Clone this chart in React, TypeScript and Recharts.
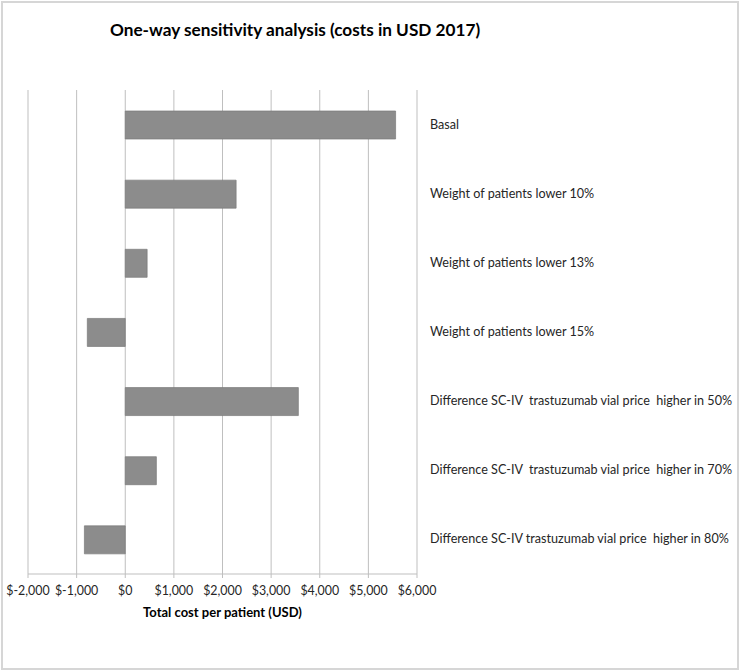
import React from "react";
import { BarChart, Bar, XAxis, YAxis, CartesianGrid, Label } from "recharts";

const categories = [
  "Basal",
  "Weight of patients lower 10%",
  "Weight of patients lower 13%",
  "Weight of patients lower 15%",
  "Difference SC-IV  trastuzumab vial price  higher in 50%",
  "Difference SC-IV  trastuzumab vial price  higher in 70%",
  "Difference SC-IV trastuzumab vial price  higher in 80%",
];
const totalCost = [5560, 2280, 450, -780, 3560, 640, -840];
const xTicks = [-2000, -1000, 0, 1000, 2000, 3000, 4000, 5000, 6000];

const data = categories.map((name, i) => ({ name, cost: totalCost[i] }));

const FONT = "Lato, 'Open Sans', sans-serif";

const fmt = (v: number) => "$" + v.toLocaleString("en-US");

const RightTick = (props: any) => {
  const { x, y, payload } = props;
  return (
    <text
      x={x}
      y={y}
      dy={4}
      textAnchor="start"
      fill="#262626"
      fontSize={12.6}
      fontFamily={FONT}
      style={{ whiteSpace: "pre" }}
    >
      {payload.value}
    </text>
  );
};

export default function App() {
  return (
    <div
      style={{
        position: "absolute",
        left: 0,
        top: 0,
        width: 740,
        height: 671,
        background: "#fff",
      }}
    >
      <div
        style={{
          position: "absolute",
          left: 1,
          top: 1,
          width: 738,
          height: 669,
          border: "2px solid #d6d6d6",
          boxSizing: "border-box",
        }}
      />
      <div
        style={{
          position: "absolute",
          left: 110,
          top: 19,
          fontFamily: FONT,
          fontWeight: 700,
          fontSize: 17.2,
          color: "#000",
          whiteSpace: "nowrap",
          lineHeight: "22px",
        }}
      >
        One-way sensitivity analysis (costs in USD 2017)
      </div>
      <div style={{ position: "absolute", left: 0, top: 0 }}>
        <BarChart
          width={740}
          height={671}
          data={data}
          layout="vertical"
          margin={{ top: 90, right: 13, bottom: 47, left: 28 }}
        >
          <CartesianGrid horizontal={false} stroke="#bfbfbf" strokeWidth={1} />
          <XAxis
            type="number"
            domain={[-2000, 6000]}
            ticks={xTicks}
            interval={0}
            tickFormatter={fmt}
            axisLine={{ stroke: "#bfbfbf" }}
            tickLine={{ stroke: "#bfbfbf" }}
            tickSize={4}
            tickMargin={8}
            height={50}
            tick={{ fill: "#262626", fontSize: 12.4, fontFamily: FONT }}
          >
            <Label
              value="Total cost per patient (USD)"
              position="insideBottom"
              offset={7}
              style={{ fontWeight: 700, fontSize: 13, fontFamily: FONT, fill: "#000" }}
            />
          </XAxis>
          <YAxis
            type="category"
            dataKey="name"
            orientation="right"
            width={310}
            axisLine={false}
            tickLine={false}
            tickSize={0}
            tickMargin={13}
            interval={0}
            tick={<RightTick />}
          />
          <Bar
            dataKey="cost"
            fill="#8c8c8c"
            stroke="#7a7a7a"
            strokeWidth={0.7}
            barSize={28}
            isAnimationActive={false}
          />
        </BarChart>
      </div>
    </div>
  );
}
